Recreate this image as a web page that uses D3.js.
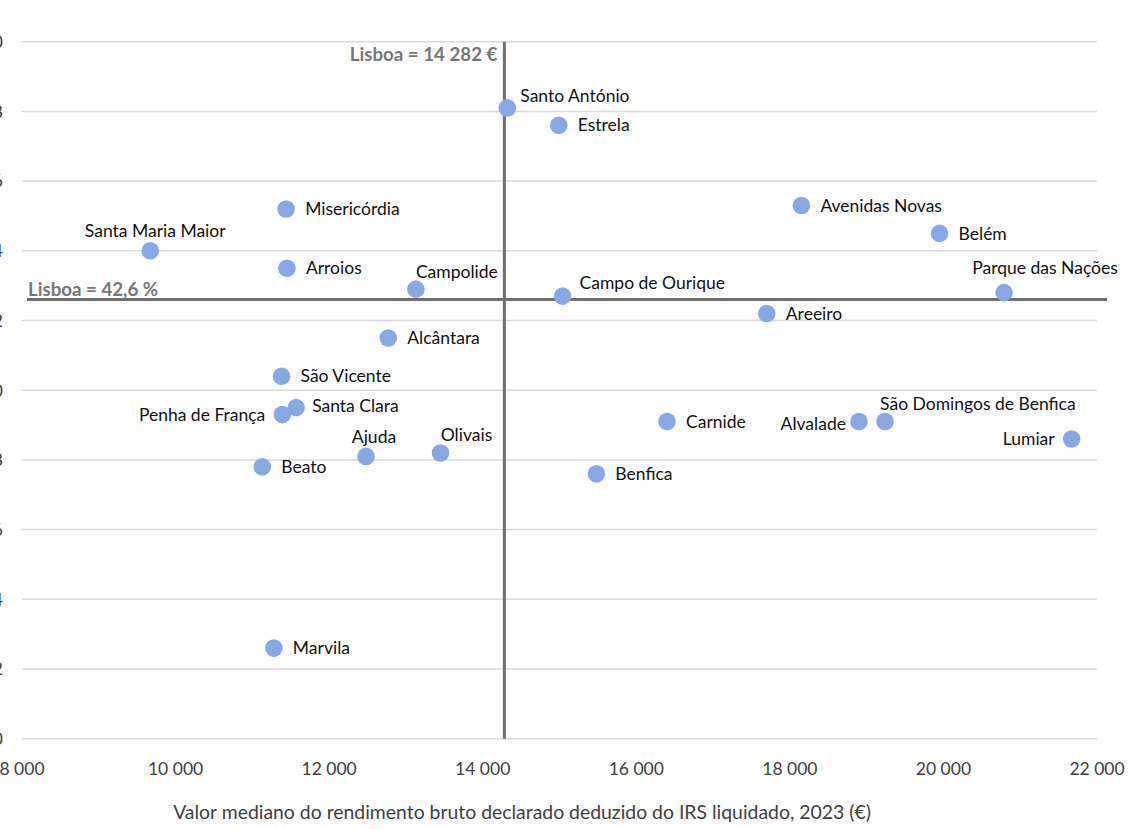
<!DOCTYPE html>
<html>
<head>
<meta charset="utf-8">
<script src="https://cdn.jsdelivr.net/npm/d3@7"></script>
<style>
  html, body { margin: 0; padding: 0; background: #fff; }
  svg { display: block; font-family: Lato, "Open Sans", sans-serif; }
</style>
</head>
<body>
<svg id="chart" width="1133" height="829"></svg>
<script>
// ---- data ----
const parishes = ["Santo António","Estrela","Misericórdia","Avenidas Novas","Belém","Santa Maria Maior","Arroios","Campolide","Campo de Ourique","Parque das Nações","Areeiro","Alcântara","São Vicente","Santa Clara","Penha de França","Carnide","Alvalade","São Domingos de Benfica","Lumiar","Ajuda","Olivais","Beato","Benfica","Marvila"];
const income = [14320,14990,11440,18150,19950,9670,11450,13130,15040,20790,17700,12770,11380,11570,11390,16400,18900,19240,21670,12480,13450,11130,15480,11280];
const share  = [48.1,47.6,45.2,45.3,44.5,44.0,43.5,42.9,42.7,42.8,42.2,41.5,40.4,39.5,39.3,39.1,39.1,39.1,38.6,38.1,38.2,37.8,37.6,32.6];
const xTicks = [8000,10000,12000,14000,16000,18000,20000,22000];
const yTicks = [30,32,34,36,38,40,42,44,46,48,50];
const lisboaIncome = 14282;
const lisboaShare = 42.6;
const xTitle = "Valor mediano do rendimento bruto declarado deduzido do IRS liquidado, 2023 (€)";
const vLabel = "Lisboa = 14 282 €";
const hLabel = "Lisboa = 42,6 %";

// ---- label placement (layout only) ----
const placement = {
  "Santo António": ["start", 13, -12],
  "Santa Maria Maior": ["middle", 5, -20],
  "Campolide": ["start", 0, -17],
  "Campo de Ourique": ["start", 17, -13],
  "Parque das Nações": ["middle", 41, -25],
  "Santa Clara": ["start", 16, -2],
  "Penha de França": ["end", -17, 0],
  "Alvalade": ["end", -13, 2],
  "São Domingos de Benfica": ["start", -5, -18],
  "Lumiar": ["end", -17, 0],
  "Ajuda": ["middle", 8, -20],
  "Olivais": ["middle", 26, -18]
};

const svg = d3.select("#chart");
const x = d3.scaleLinear().domain([8000, 22000]).range([22, 1097]);
const y = d3.scaleLinear().domain([30, 50]).range([738.7, 41.7]);

// gridlines
svg.append("g").selectAll("line").data(yTicks).join("line")
  .attr("x1", x(8000)).attr("x2", x(22000))
  .attr("y1", d => y(d)).attr("y2", d => y(d))
  .attr("stroke", "#d9d9d9").attr("stroke-width", 1.5);

// y tick labels (cut at the left edge as in the reference)
svg.append("g").selectAll("text").data(yTicks).join("text")
  .attr("x", 3).attr("y", d => y(d)).attr("dy", "0.35em")
  .attr("text-anchor", "end").attr("fill", "#404040")
  .attr("font-size", 18).text(d => d);

// x tick labels
svg.append("g").selectAll("text").data(xTicks).join("text")
  .attr("x", d => x(d)).attr("y", 775)
  .attr("text-anchor", "middle").attr("fill", "#404040")
  .attr("font-size", 17.5).text(d => d3.format(",")(d).replace(/,/g, " "));

// axis title
svg.append("text").attr("x", 522).attr("y", 819)
  .attr("text-anchor", "middle").attr("fill", "#404040")
  .attr("font-size", 19.4).text(xTitle);

// Lisboa reference lines
svg.append("line")
  .attr("x1", x(lisboaIncome)).attr("x2", x(lisboaIncome))
  .attr("y1", y(50)).attr("y2", y(30))
  .attr("stroke", "#6f6f6f").attr("stroke-width", 3);
svg.append("line")
  .attr("x1", 27).attr("x2", 1107)
  .attr("y1", y(lisboaShare)).attr("y2", y(lisboaShare))
  .attr("stroke", "#6f6f6f").attr("stroke-width", 3);

svg.append("text").attr("x", x(lisboaIncome) - 7).attr("y", 61)
  .attr("text-anchor", "end").attr("fill", "#767676")
  .attr("font-weight", "bold").attr("font-size", 18.7).text(vLabel);
svg.append("text").attr("x", 28).attr("y", y(lisboaShare) - 4)
  .attr("text-anchor", "start").attr("fill", "#767676")
  .attr("font-weight", "bold").attr("font-size", 18.7).text(hLabel);

// points
const pts = parishes.map((n, i) => ({ name: n, inc: income[i], sh: share[i] }));
svg.append("g").selectAll("circle").data(pts).join("circle")
  .attr("cx", d => x(d.inc)).attr("cy", d => y(d.sh)).attr("r", 8.8)
  .attr("fill", "#87a8e4");

// labels
svg.append("g").selectAll("text").data(pts).join("text")
  .attr("x", d => x(d.inc) + (placement[d.name] ? placement[d.name][1] : 19))
  .attr("y", d => y(d.sh) + (placement[d.name] ? placement[d.name][2] : 0))
  .attr("dy", "0.35em")
  .attr("text-anchor", d => placement[d.name] ? placement[d.name][0] : "start")
  .attr("fill", "#111").attr("font-size", 17.5)
  .text(d => d.name);
</script>
</body>
</html>
